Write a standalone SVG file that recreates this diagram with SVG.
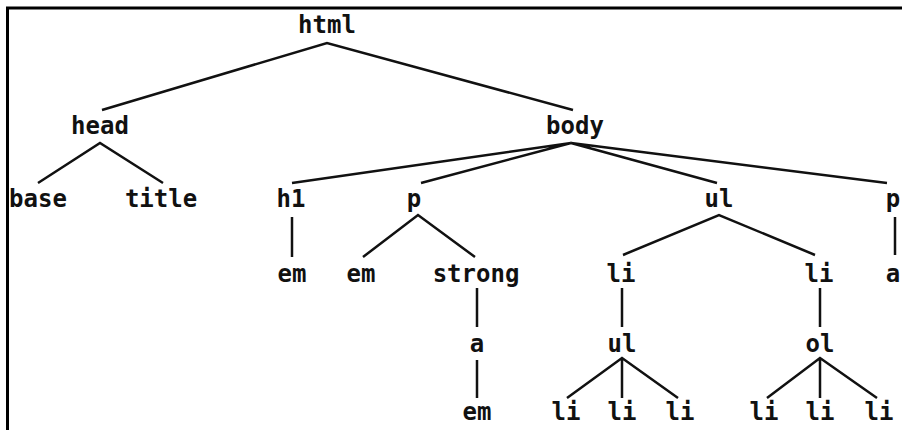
<svg xmlns="http://www.w3.org/2000/svg" width="902" height="430" viewBox="0 0 902 430">
<style>
text{font-family:"DejaVu Sans Mono","Liberation Mono",monospace;font-size:24px;font-weight:bold;fill:#111;text-anchor:middle}
.e{stroke:#111;stroke-width:2.5;fill:none;stroke-linecap:butt}
.frame{stroke:#000;stroke-width:3;fill:none}
</style>
<rect width="902" height="430" fill="#fff"/>
<path class="frame" d="M7.5 430 V8 H902"/>
<g id="connectors">
<path class="e" d="M102 110 L327 43 L573 110"/>
<path class="e" d="M38 183 L100 143 L163 183"/>
<path class="e" d="M292 183 L571 143 M421 183 L571 143 M717 183 L571 143 M887 183 L571 143"/>
<path class="e" d="M292 217 V257"/>
<path class="e" d="M363 257 L418 215 L475 257"/>
<path class="e" d="M623 255 L719 215 L815 255"/>
<path class="e" d="M895 217 V255"/>
<path class="e" d="M477 288 V327 M477 360 V398"/>
<path class="e" d="M622 288 V327 M820 288 V327"/>
<path class="e" d="M567 398 L622 358 L678 398 M622 358 V398"/>
<path class="e" d="M767 398 L820 358 L877 398 M820 358 V398"/>
</g>
<g id="n-html"><text x="327" y="33">html</text></g>
<g id="n-head"><text x="100" y="134">head</text></g>
<g id="n-body"><text x="575" y="134">body</text></g>
<g id="n-base"><text x="38" y="207">base</text></g>
<g id="n-title"><text x="161" y="207">title</text></g>
<g id="n-h1"><text x="291" y="207">h1</text></g>
<g id="n-p1"><text x="414" y="207">p</text></g>
<g id="n-ul1"><text x="719" y="207">ul</text></g>
<g id="n-p2"><text x="893" y="207">p</text></g>
<g id="n-em1"><text x="292" y="282">em</text></g>
<g id="n-em2"><text x="361" y="282">em</text></g>
<g id="n-strong"><text x="476" y="282">strong</text></g>
<g id="n-li1"><text x="621" y="282">li</text></g>
<g id="n-li2"><text x="819" y="282">li</text></g>
<g id="n-a2"><text x="893" y="282">a</text></g>
<g id="n-a1"><text x="477" y="352">a</text></g>
<g id="n-ul2"><text x="622" y="352">ul</text></g>
<g id="n-ol"><text x="820" y="352">ol</text></g>
<g id="n-em3"><text x="477" y="420">em</text></g>
<g id="n-li3"><text x="566" y="420">li</text></g>
<g id="n-li4"><text x="622" y="420">li</text></g>
<g id="n-li5"><text x="680" y="420">li</text></g>
<g id="n-li6"><text x="764" y="420">li</text></g>
<g id="n-li7"><text x="820" y="420">li</text></g>
<g id="n-li8"><text x="879" y="420">li</text></g>
</svg>
